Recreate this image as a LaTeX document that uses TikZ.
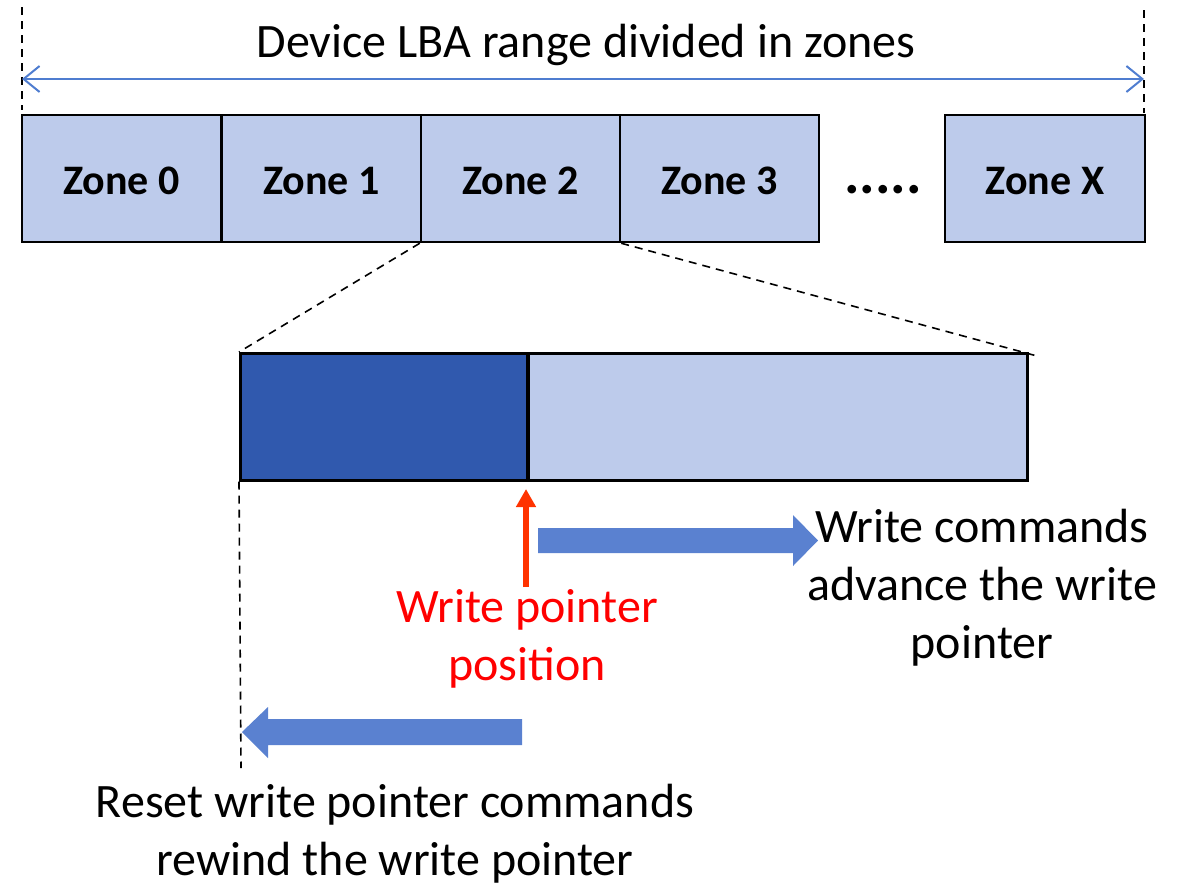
\documentclass[tikz,border=0pt]{standalone}
\usepackage{fontspec}
\setmainfont{Carlito}
\usetikzlibrary{arrows.meta}
\definecolor{zonefill}{HTML}{BDCBEB}
\definecolor{usedfill}{HTML}{3059AE}
\definecolor{rangeblue}{HTML}{4F7DD0}
\definecolor{blockblue}{HTML}{5A81D0}
\definecolor{ptrred}{HTML}{FF3300}
\tikzset{
  zonebox/.style={draw=black, line width=2.5pt, fill=zonefill, minimum width=199pt, minimum height=127pt, inner sep=0pt},
  zonelabel/.style={font=\fontsize{42}{48}\selectfont\bfseries, anchor=base},
  guide/.style={draw=black, line width=1.6pt, dash pattern=on 8pt off 6pt},
  bigtext/.style={font=\fontsize{48}{58}\selectfont, align=center, anchor=base},
  blockarrow/.style={fill=blockblue, draw=none},
}
\begin{document}
\begin{tikzpicture}[x=1pt, y=-1pt]
\useasboundingbox (0,0) rectangle (1184,884);

% whole device range
\coordinate (rangeL) at (22,79);
\coordinate (rangeR) at (1144,79);
\draw[guide] (22,7) coordinate (gLtop) -- (22,110) coordinate (gLbot);
\draw[guide] (1144,10) coordinate (gRtop) -- (1144,113) coordinate (gRbot);
\draw[rangeblue, line width=2pt, {Straight Barb[length=16pt, width=26pt, line width=2pt]}-{Straight Barb[length=16pt, width=26pt, line width=2pt]}] (rangeL) -- (rangeR);
\node[bigtext] (title) at (586,57) {Device LBA range divided in zones};

% zones
\node[zonebox] (z0) at (121.5,178.5) {};
\node[zonebox] (z1) at (321.5,178.5) {};
\node[zonebox] (z2) at (520.5,178.5) {};
\node[zonebox] (z3) at (719.5,178.5) {};
\node[zonebox, minimum width=200pt] (zx) at (1045,178.5) {};
\node[zonelabel] (z0t) at (121.5,194) {Zone 0};
\node[zonelabel] (z1t) at (321.5,194) {Zone 1};
\node[zonelabel] (z2t) at (520.5,194) {Zone 2};
\node[zonelabel] (z3t) at (719.5,194) {Zone 3};
\node[zonelabel] (zxt) at (1045,194) {Zone X};
\node[font=\fontsize{58}{60}\selectfont\bfseries, anchor=base] (dots) at (883,193) {.....};

% zone 2 expanded
\node[draw=black, line width=2.5pt, fill=usedfill, minimum width=287pt, minimum height=127pt, inner sep=0pt, anchor=north west] (used) at (239,352) {};
\node[draw=black, line width=2.5pt, fill=zonefill, minimum width=500pt, minimum height=127pt, inner sep=0pt, anchor=north west] (free) at (526,352) {};
\draw[black, line width=2.5pt] (used.north east) -- (used.south east);
\coordinate (farR) at (1037,356);
\draw[guide] (z2.south west) -- (used.north west);
\draw[guide] (z2.south east) -- (farR);
\draw[guide] (used.south west) -- (241,768) coordinate (gBot);

% write pointer
\coordinate (ptrBase) at (526,587);
\draw[ptrred, line width=6pt, -{Triangle[length=18pt, width=19pt]}] (ptrBase) -- (526,489);
\node[bigtext, text=red] (ptrText) at (527,680) {Write pointer\\position};

% write advances the pointer
\fill[blockarrow] (538,528) -- (793,528) -- (793,515) -- (818,540.5) -- (793,566) -- (793,553) -- (538,553) -- cycle;
\node[bigtext] (advText) at (982,658) {Write commands\\advance the write\\pointer};

% reset rewinds the pointer
\fill[blockarrow] (522,719) -- (268,719) -- (268,707) -- (242,732) -- (268,758) -- (268,745) -- (522,745) -- cycle;
\node[bigtext] (rstText) at (395,875) {Reset write pointer commands\\rewind the write pointer};
\end{tikzpicture}
\end{document}
